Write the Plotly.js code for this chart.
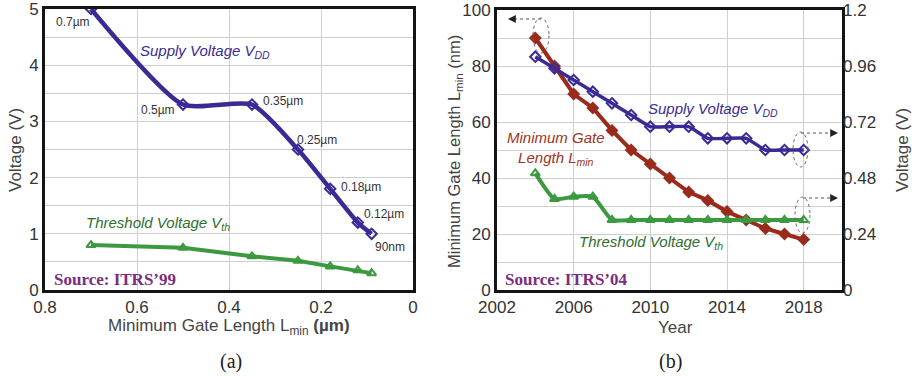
<!DOCTYPE html>
<html>
<head>
<meta charset="utf-8">
<script src="https://cdn.plot.ly/plotly-3.0.1.min.js"></script>
<style>html,body{margin:0;padding:0;background:#fff;}#chart{width:912px;height:376px;}</style>
</head>
<body>
<div id="chart"></div>
<script>
// ---------- data: panel (a) ITRS'99 ----------
const gateLengthA = [0.7, 0.5, 0.35, 0.25, 0.18, 0.12, 0.09];
const supplyVoltageA = [5.0, 3.3, 3.3, 2.5, 1.8, 1.2, 1.0];
const thresholdVoltageA = [0.8, 0.75, 0.6, 0.52, 0.42, 0.35, 0.3];
const nodeLabelsA = ['0.7µm', '0.5µm', '0.35µm', '0.25µm', '0.18µm', '0.12µm', '90nm'];

// ---------- data: panel (b) ITRS'04 ----------
const yearsB = [2004, 2005, 2006, 2007, 2008, 2009, 2010, 2011, 2012, 2013, 2014, 2015, 2016, 2017, 2018];
const gateLengthB = [90, 80, 70, 65, 57, 50, 45, 40, 35, 32, 28, 25, 22, 20, 18];
const supplyVoltageB = [1.0, 0.95, 0.9, 0.85, 0.8, 0.75, 0.7, 0.7, 0.7, 0.65, 0.65, 0.65, 0.6, 0.6, 0.6];
const thresholdVoltageB = [0.5, 0.39, 0.4, 0.4, 0.3, 0.3, 0.3, 0.3, 0.3, 0.3, 0.3, 0.3, 0.3, 0.3, 0.3];
const voltTicksB = [0, 0.24, 0.48, 0.72, 0.96, 1.2];

// ---------- styling / layout helpers ----------
const W = 912, H = 376;
const M = {l: 45, r: 70, t: 9, b: 86};
const PW = W - M.l - M.r, PH = H - M.t - M.b;
const px = p => (p - M.l) / PW;          // pixel x -> paper x
const py = p => (H - M.b - p) / PH;      // pixel y -> paper y

const BLUE = '#3a2a95', RED = '#9a2a1c', GREEN = '#3b9a3f';
const BLUE_T = '#3a2a95', RED_T = '#a23222', GREEN_T = '#2f6e2f';
const PURPLE = '#7d2c80';
const GRID = '#cfcfcf', FRAME = '#141414', TICK = '#333';
const sans = 'Liberation Sans, Arial, sans-serif';
const serif = 'Liberation Serif, Times New Roman, serif';

// offsets of the node labels from their points (px)
const nodeLabelShift = [[-18, -13], [-25, -5], [31, 4], [19, 10], [31, 2], [26, 9], [18, -13]];

const traces = [
  {x: gateLengthA, y: supplyVoltageA, xaxis: 'x', yaxis: 'y', mode: 'lines+markers',
   line: {color: BLUE, width: 4.5, shape: 'spline', smoothing: 0.6},
   marker: {symbol: 'diamond-open', size: 8, color: BLUE, line: {width: 2, color: BLUE}}},
  {x: gateLengthA, y: thresholdVoltageA, xaxis: 'x', yaxis: 'y', mode: 'lines+markers',
   line: {color: GREEN, width: 4},
   marker: {symbol: 'triangle-up-open', size: 8, color: GREEN, line: {width: 2, color: GREEN}}},
  {x: yearsB, y: gateLengthB, xaxis: 'x2', yaxis: 'y2', mode: 'lines+markers',
   line: {color: RED, width: 4},
   marker: {symbol: 'diamond', size: 10, color: RED}},
  {x: yearsB, y: supplyVoltageB, xaxis: 'x2', yaxis: 'y3', mode: 'lines+markers',
   line: {color: BLUE, width: 3.5, shape: 'spline', smoothing: 0.4},
   marker: {symbol: 'diamond-open', size: 8, color: BLUE, line: {width: 2, color: BLUE}}},
  {x: yearsB, y: thresholdVoltageB, xaxis: 'x2', yaxis: 'y3', mode: 'lines+markers',
   line: {color: GREEN, width: 4, shape: 'spline', smoothing: 0.5},
   marker: {symbol: 'triangle-up-open', size: 8, color: GREEN, line: {width: 2, color: GREEN}}}
];

const frame = {showline: true, linecolor: FRAME, linewidth: 3, mirror: true, zeroline: false,
               ticks: '', tickfont: {family: sans, size: 17, color: TICK}, ticklabeloverflow: 'allow',
               gridcolor: GRID, gridwidth: 1};

const annotations = [];
// node labels for panel (a)
nodeLabelsA.forEach((t, i) => annotations.push({
  text: t, x: gateLengthA[i], y: supplyVoltageA[i], xref: 'x', yref: 'y', showarrow: false,
  xanchor: 'center', yanchor: 'middle',
  xshift: nodeLabelShift[i][0], yshift: nodeLabelShift[i][1],
  font: {family: sans, size: 12, color: '#333'}}));

const txt = (text, x, y, font, extra) => Object.assign({text, x: px(x), y: py(y), xref: 'paper', yref: 'paper',
  xanchor: 'center', yanchor: 'middle', showarrow: false, font}, extra || {});

annotations.push(
  txt('<i>Supply Voltage V<sub>DD</sub></i>', 205, 52, {family: sans, size: 15, color: BLUE_T}),
  txt('<i>Threshold Voltage V<sub>th</sub></i>', 158, 223, {family: sans, size: 15, color: GREEN_T}),
  txt('<i>Supply Voltage V<sub>DD</sub></i>', 713, 110, {family: sans, size: 15, color: BLUE_T}),
  txt('<i>Minimum Gate<br>Length L<sub>min</sub></i>', 556, 148, {family: sans, size: 15, color: RED_T}, {align: 'center'}),
  txt('<i>Threshold Voltage V<sub>th</sub></i>', 651, 242, {family: sans, size: 15, color: GREEN_T}),
  txt('<b>Source: ITRS’99</b>', 52, 279, {family: serif, size: 17, color: PURPLE}, {xanchor: 'left'}),
  txt('<b>Source: ITRS’04</b>', 503, 279, {family: serif, size: 17, color: PURPLE}, {xanchor: 'left'}),
  txt('Voltage (V)', 15, 150, {family: sans, size: 17, color: '#444'}, {textangle: -90}),
  txt('Minimum Gate Length L<sub>min</sub> <b>(µm)</b>', 229, 327, {family: sans, size: 17, color: '#444'}),
  txt('(a)', 231, 361, {family: serif, size: 20, color: '#222'}),
  txt('Minimum Gate Length L<sub>min</sub> (nm)', 455, 152, {family: sans, size: 16.5, color: '#444'}, {textangle: -90}),
  txt('Year', 675, 327, {family: sans, size: 17, color: '#444'}),
  txt('Voltage (V)', 902, 150, {family: sans, size: 17, color: '#444'}, {textangle: -90}),
  txt('(b)', 670, 361, {family: serif, size: 20, color: '#222'})
);

// arrow heads
const head = (hx, hy, dir) => ({x: px(hx), y: py(hy), xref: 'paper', yref: 'paper', text: '',
  showarrow: true, arrowhead: 2, arrowsize: 1.3, arrowwidth: 1.2, arrowcolor: '#222', ax: -6 * dir, ay: 0});
annotations.push(head(508, 19, -1), head(838, 133, 1), head(838, 198, 1));

const dotLine = (x0, y0, x1, y1) => ({type: 'line', xref: 'paper', yref: 'paper',
  x0: px(x0), y0: py(y0), x1: px(x1), y1: py(y1), line: {color: '#555', width: 1, dash: 'dot'}});
const ellipse = (x0, y0, x1, y1) => ({type: 'circle', xref: 'paper', yref: 'paper',
  x0: px(x0), y0: py(y0), x1: px(x1), y1: py(y1), line: {color: '#666', width: 1, dash: 'dot'}});

const shapes = [
  ellipse(533, 18, 549, 53), dotLine(541, 19, 512, 19),
  ellipse(793, 132, 808, 167), dotLine(801, 133, 833, 133),
  ellipse(795, 197, 810, 233), dotLine(803, 198, 833, 198)
];

const layout = {
  width: W, height: H, margin: M, showlegend: false,
  paper_bgcolor: '#fff', plot_bgcolor: '#fff',
  xaxis: Object.assign({}, frame, {domain: [0, px(413)], range: [0.8, 0], tickvals: [0.8, 0.6, 0.4, 0.2, 0], anchor: 'y'}),
  yaxis: Object.assign({}, frame, {domain: [0, 1], range: [0, 5], dtick: 1, anchor: 'x',
    minor: {dtick: 0.5, showgrid: true, gridcolor: GRID, ticks: ''}}),
  xaxis2: Object.assign({}, frame, {domain: [px(497), 1], range: [2002, 2020], tickvals: [2002, 2006, 2010, 2014, 2018], anchor: 'y2'}),
  yaxis2: Object.assign({}, frame, {domain: [0, py(10)], range: [0, 100], dtick: 20, anchor: 'x2',
    minor: {dtick: 10, showgrid: true, gridcolor: GRID, ticks: ''}}),
  yaxis3: {overlaying: 'y2', side: 'right', anchor: 'x2', range: [0, 1.2], tickvals: voltTicksB,
    ticktext: voltTicksB.map(v => String(v)), showgrid: false, zeroline: false, showline: false, ticks: '',
    ticklabeloverflow: 'allow', tickfont: {family: sans, size: 17, color: TICK}},
  annotations, shapes
};

Plotly.newPlot('chart', traces, layout, {displayModeBar: false, staticPlot: true});
</script>
</body>
</html>
